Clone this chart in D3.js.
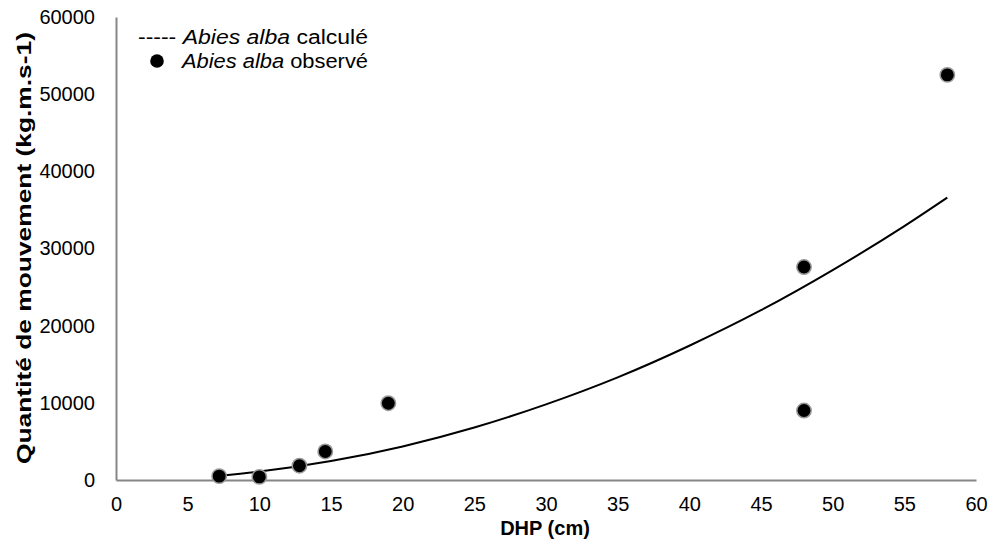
<!DOCTYPE html>
<html><head><meta charset="utf-8">
<script src="https://cdn.jsdelivr.net/npm/d3@7/dist/d3.min.js"></script>
<style>body{margin:0;background:#fff}svg{display:block}text{font-family:"Liberation Sans",Arial,sans-serif}</style>
</head><body><svg id="c" width="989" height="548"></svg>
<script>
const obsX = [7.2, 10, 12.8, 14.6, 19, 48, 48, 58];
const obsY = [500, 400, 1850, 3700, 9950, 27600, 9000, 52500];
const calcX = [7.2, 10, 15, 20, 25, 30, 35, 40, 45, 50, 55, 58];
const calcY = [560, 1090, 2450, 4350, 6800, 9800, 13300, 17400, 22000, 27200, 32900, 36600];
const xTicks = [0,5,10,15,20,25,30,35,40,45,50,55,60];
const yTicks = [0,10000,20000,30000,40000,50000,60000];

const svg = d3.select("#c");
const x = d3.scaleLinear().domain([0,60]).range([116,976]);
const y = d3.scaleLinear().domain([0,60000]).range([480,17]);

const xa = svg.append("g").attr("transform","translate(0,480)")
  .call(d3.axisBottom(x).tickValues(xTicks).tickSize(0).tickPadding(17).tickSizeOuter(0));
const ya = svg.append("g").attr("transform","translate(116,0)")
  .call(d3.axisLeft(y).tickValues(yTicks).tickSize(0).tickPadding(21).tickSizeOuter(0).tickFormat(d3.format("d")));
[xa,ya].forEach(a=>{
  a.select(".domain").attr("stroke","#868686").attr("stroke-width",2);
  a.selectAll("text").attr("font-size",20).attr("fill","#000").attr("font-family",'"Liberation Sans",Arial,sans-serif');
});

const line = d3.line().x(d=>x(d[0])).y(d=>y(d[1])).curve(d3.curveMonotoneX);
svg.append("path").datum(calcX.map((v,i)=>[v,calcY[i]]))
  .attr("d",line).attr("fill","none").attr("stroke","#000").attr("stroke-width",2);

svg.append("g").selectAll("circle").data(obsX.map((v,i)=>[v,obsY[i]])).join("circle")
  .attr("cx",d=>x(d[0])).attr("cy",d=>y(d[1])).attr("r",7.2)
  .attr("fill","#000").attr("stroke","#999").attr("stroke-width",1.5);

// legend
const lg = svg.append("g");
const t1 = lg.append("text").attr("x",138).attr("y",44).attr("font-size",20)
  .attr("textLength",230).attr("lengthAdjust","spacingAndGlyphs");
t1.append("tspan").text("----- ");
t1.append("tspan").attr("font-style","italic").text("Abies alba");
t1.append("tspan").text(" calculé");
lg.append("circle").attr("cx",157).attr("cy",61).attr("r",6.8).attr("fill","#000");
const t2 = lg.append("text").attr("x",182).attr("y",68).attr("font-size",20)
  .attr("textLength",186).attr("lengthAdjust","spacingAndGlyphs");
t2.append("tspan").attr("font-style","italic").text("Abies alba");
t2.append("tspan").text(" observé");

svg.append("text").attr("x",545).attr("y",535).attr("text-anchor","middle")
  .attr("font-size",20).attr("font-weight","bold").text("DHP (cm)");
svg.append("text").attr("transform","translate(31,248) rotate(-90)").attr("text-anchor","middle")
  .attr("font-size",20).attr("font-weight","bold")
  .attr("textLength",432).attr("lengthAdjust","spacingAndGlyphs")
  .text("Quantité de mouvement (kg.m.s-1)");
</script></body></html>
